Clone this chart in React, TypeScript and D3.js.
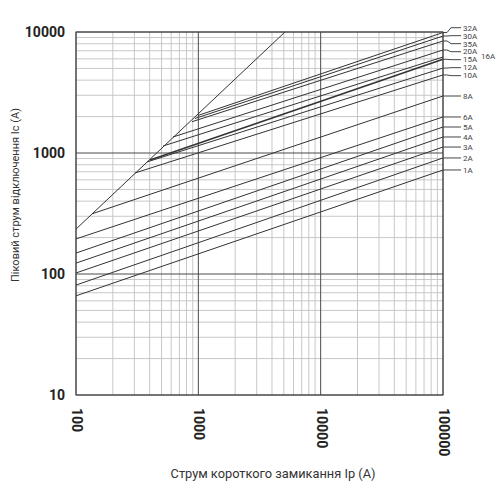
import { useEffect, useRef } from 'react'
import * as d3 from 'd3'

// Fuse ratings, with start point (on the limit line or left edge) and end value at 100 kA
const RATINGS = ['1A', '2A', '3A', '4A', '5A', '6A', '8A', '10A', '12A', '15A', '16A', '20A', '35A', '30A', '32A']
const START_ICC = [100, 100, 100, 100, 100, 100, 136, 304, 380, 403, 514, 621, 888, 939, 994]
const START_IP = [66, 81, 102, 123, 149, 195, 315, 684, 843, 875, 1142, 1356, 1814, 1928, 2042]
const END_ICC = 100000
const END_IP = [724, 910, 1120, 1356, 1640, 1985, 2958, 4416, 5036, 5945, 6215, 7100, 8430, 9267, 9900]

// Unlimited peak current line
const DIAG_ICC = [100, 5106]
const DIAG_IP = [235, 10000]

const X_TICKS = [100, 1000, 10000, 100000]
const Y_TICKS = [10, 100, 1000, 10000]

const W = 500
const H = 500
const PLOT = { left: 76, right: 443, top: 32, bottom: 395 }
const FONT = 'Roboto, "DejaVu Sans", sans-serif'

function minorTicks(lo: number, hi: number) {
  const out: number[] = []
  for (let d = lo; d < hi; d *= 10) {
    for (let k = 2; k <= 9; k++) out.push(d * k)
  }
  return out
}

// push overlapping label positions apart, keeping each group centred
function spread(pos: number[], gap: number) {
  const p = [...pos]
  for (let it = 0; it < 200; it++) {
    let moved = false
    for (let i = 1; i < p.length; i++) {
      const diff = p[i] - p[i - 1]
      if (diff < gap - 0.01) {
        const push = (gap - diff) / 2
        p[i - 1] -= push
        p[i] += push
        moved = true
      }
    }
    if (!moved) break
  }
  return p
}

export default function App() {
  const svgRef = useRef<SVGSVGElement>(null)

  useEffect(() => {
    if (!svgRef.current) return
    const svg = d3.select(svgRef.current)
    svg.selectAll('*').remove()

    const x = d3.scaleLog().domain([100, 100000]).range([PLOT.left, PLOT.right])
    const y = d3.scaleLog().domain([10, 10000]).range([PLOT.bottom, PLOT.top])

    svg.append('rect').attr('width', W).attr('height', H).attr('fill', '#fff')

    const g = svg.append('g')

    // minor grid
    g.selectAll('.vminor')
      .data(minorTicks(100, 100000))
      .enter()
      .append('line')
      .attr('x1', d => x(d)).attr('x2', d => x(d))
      .attr('y1', PLOT.top).attr('y2', PLOT.bottom)
      .attr('stroke', '#c2c2c2').attr('stroke-width', 0.9)

    g.selectAll('.hminor')
      .data(minorTicks(10, 10000))
      .enter()
      .append('line')
      .attr('x1', PLOT.left).attr('x2', PLOT.right)
      .attr('y1', d => y(d)).attr('y2', d => y(d))
      .attr('stroke', '#c2c2c2').attr('stroke-width', 0.9)

    // decade lines
    g.selectAll('.vmajor')
      .data(X_TICKS)
      .enter()
      .append('line')
      .attr('x1', d => x(d)).attr('x2', d => x(d))
      .attr('y1', PLOT.top).attr('y2', PLOT.bottom)
      .attr('stroke', '#4a4a4a').attr('stroke-width', 1)

    g.selectAll('.hmajor')
      .data(Y_TICKS)
      .enter()
      .append('line')
      .attr('x1', PLOT.left).attr('x2', PLOT.right)
      .attr('y1', d => y(d)).attr('y2', d => y(d))
      .attr('stroke', '#4a4a4a').attr('stroke-width', 1)

    const line = d3.line<[number, number]>()
      .x(d => x(d[0]))
      .y(d => y(d[1]))

    // limit line
    g.append('path')
      .datum(DIAG_ICC.map((v, i) => [v, DIAG_IP[i]] as [number, number]))
      .attr('d', line)
      .attr('fill', 'none')
      .attr('stroke', '#333')
      .attr('stroke-width', 1)

    // label positions on the right
    const order = RATINGS.map((r, i) => ({ r, ly: y(END_IP[i]) }))
      .filter(d => d.r !== '16A')
      .sort((a, b) => a.ly - b.ly)
    const spreadPos = spread(order.map(d => d.ly), 8)
    const labelY = new Map<string, number>()
    order.forEach((d, i) => labelY.set(d.r, spreadPos[i]))

    // fuse lines
    RATINGS.forEach((r, i) => {
      g.append('path')
        .datum([[START_ICC[i], START_IP[i]], [END_ICC, END_IP[i]]] as [number, number][])
        .attr('d', line)
        .attr('fill', 'none')
        .attr('stroke', '#333')
        .attr('stroke-width', r === '15A' ? 1.6 : 1)

      const ly = y(END_IP[i])
      const ty = labelY.get(r) ?? ly
      if (r !== '16A') {
        g.append('polyline')
          .attr('points', `${PLOT.right},${ly} ${PLOT.right + 4},${ly} ${PLOT.right + 8},${ty} ${PLOT.right + 18},${ty}`)
          .attr('fill', 'none')
          .attr('stroke', '#444').attr('stroke-width', 1)
      }
      g.append('text')
        .text(r)
        .attr('x', r === '16A' ? PLOT.right + 38 : PLOT.right + 20)
        .attr('y', r === '16A' ? ly - 1 : ty)
        .attr('dy', '0.35em')
        .attr('font-family', FONT)
        .attr('font-size', 8)
        .attr('fill', '#444')
    })

    // frame
    g.append('rect')
      .attr('x', PLOT.left).attr('y', PLOT.top)
      .attr('width', PLOT.right - PLOT.left)
      .attr('height', PLOT.bottom - PLOT.top)
      .attr('fill', 'none')
      .attr('stroke', '#444')
      .attr('stroke-width', 1)

    // y tick labels
    g.selectAll('.ylab')
      .data(Y_TICKS)
      .enter()
      .append('text')
      .text(d => String(d))
      .attr('x', PLOT.left - 11)
      .attr('y', d => y(d))
      .attr('dy', '0.35em')
      .attr('text-anchor', 'end')
      .attr('font-family', FONT)
      .attr('font-weight', 700)
      .attr('font-size', 14)
      .attr('fill', '#222')

    // x tick labels (rotated)
    g.selectAll('.xlab')
      .data(X_TICKS)
      .enter()
      .append('text')
      .text(d => String(d))
      .attr('transform', d => `translate(${x(d) + 1},${PLOT.bottom + 13}) rotate(90)`)
      .attr('dy', '0.35em')
      .attr('font-family', FONT)
      .attr('font-weight', 700)
      .attr('font-size', 14)
      .attr('fill', '#222')

    // axis titles
    svg.append('text')
      .text('Струм короткого замикання Ip (А)')
      .attr('x', 273)
      .attr('y', 474)
      .attr('dy', '0.35em')
      .attr('text-anchor', 'middle')
      .attr('font-family', FONT)
      .attr('font-size', 12.8)
      .attr('fill', '#333')

    svg.append('text')
      .text('Піковий струм відключення Ic (А)')
      .attr('transform', 'translate(15,195) rotate(-90)')
      .attr('dy', '0.35em')
      .attr('text-anchor', 'middle')
      .attr('font-family', FONT)
      .attr('font-size', 11)
      .attr('fill', '#333')
  }, [])

  return (
    <svg
      ref={svgRef}
      width={W}
      height={H}
      style={{ position: 'absolute', left: 0, top: 0, display: 'block' }}
    />
  )
}
